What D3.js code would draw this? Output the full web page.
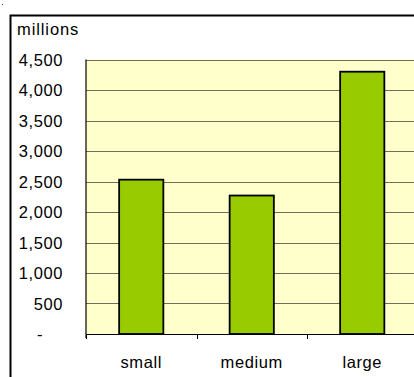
<!DOCTYPE html>
<html><head><meta charset="utf-8">
<script src="https://cdn.jsdelivr.net/npm/d3@7"></script>
<style>
html,body{margin:0;padding:0;background:#fff;}
svg{display:block;font-family:"Liberation Sans",Arial,sans-serif;}
</style></head>
<body>
<script>
const categories = ["small", "medium", "large"];
const values = [2530, 2270, 4300];
const yTicks = [0, 500, 1000, 1500, 2000, 2500, 3000, 3500, 4000, 4500];
const unitLabel = "millions";

(function () {
const W = 414, H = 377;
const FS = 16.5, LS = 0.6;
const svg = d3.select("body").append("svg").attr("width", W).attr("height", H);

// outer chart border
svg.append("rect").attr("x", 10.5).attr("y", 15.5).attr("width", 420).attr("height", 380)
  .attr("fill", "#fff").attr("stroke", "#000").attr("stroke-width", 2);
svg.append("rect").attr("x", 2).attr("y", 4).attr("width", 1).attr("height", 1).attr("fill", "#444");

const pLeft = 86, pRight = 417.5, pTop = 59.5, pBottom = 334;
const y = d3.scaleLinear().domain([0, 4500]).range([pBottom, pTop]);
const x = d3.scaleBand().domain(categories).range([pLeft, pRight]).paddingInner(0.6).paddingOuter(0.3);

// plot background
svg.append("rect").attr("x", pLeft).attr("y", pTop).attr("width", pRight - pLeft).attr("height", pBottom - pTop)
  .attr("fill", "#ffffcc");

// gridlines
svg.append("g").selectAll("line").data(yTicks.filter(d => d > 0)).join("line")
  .attr("x1", pLeft).attr("x2", pRight)
  .attr("y1", d => Math.round(y(d)) + 0.5).attr("y2", d => Math.round(y(d)) + 0.5)
  .attr("stroke", "#6f6f5a").attr("stroke-width", 1.2);

// y labels
svg.append("g").selectAll("text").data(yTicks).join("text")
  .attr("x", d => d === 0 ? 43 : 63)
  .attr("y", d => y(d) + 6)
  .attr("text-anchor", "end")
  .attr("font-size", FS)
  .attr("letter-spacing", LS)
  .attr("fill", "#000")
  .text(d => d === 0 ? "-" : d3.format(",")(d));

svg.append("text").attr("x", 17).attr("y", 35).attr("font-size", FS).attr("letter-spacing", 0.9)
  .attr("fill", "#000").text(unitLabel);

// bars
svg.append("g").selectAll("rect").data(values).join("rect")
  .attr("x", (d, i) => x(categories[i]))
  .attr("y", d => y(d))
  .attr("width", x.bandwidth())
  .attr("height", d => y(0) - y(d))
  .attr("fill", "#99cc00").attr("stroke", "#000").attr("stroke-width", 1.8);

// axes lines
svg.append("line").attr("x1", pLeft).attr("x2", pLeft).attr("y1", pTop).attr("y2", pBottom + 4)
  .attr("stroke", "#000").attr("stroke-width", 1.2);
svg.append("line").attr("x1", pLeft).attr("x2", pRight + 5).attr("y1", pBottom + 0.5).attr("y2", pBottom + 0.5)
  .attr("stroke", "#000").attr("stroke-width", 1.2);

// x ticks at category boundaries
const bounds = d3.range(categories.length + 1).map(i => pLeft + i * x.step());
svg.append("g").selectAll("line").data(bounds).join("line")
  .attr("x1", d => Math.round(d) + 0.5).attr("x2", d => Math.round(d) + 0.5)
  .attr("y1", pBottom).attr("y2", pBottom + 5)
  .attr("stroke", "#000").attr("stroke-width", 1);

// x labels
svg.append("g").selectAll("text").data(categories).join("text")
  .attr("x", d => x(d) + x.bandwidth() / 2)
  .attr("y", 368)
  .attr("text-anchor", "middle")
  .attr("font-size", FS)
  .attr("letter-spacing", LS)
  .attr("fill", "#000")
  .text(d => d);
})();
</script>
</body></html>
